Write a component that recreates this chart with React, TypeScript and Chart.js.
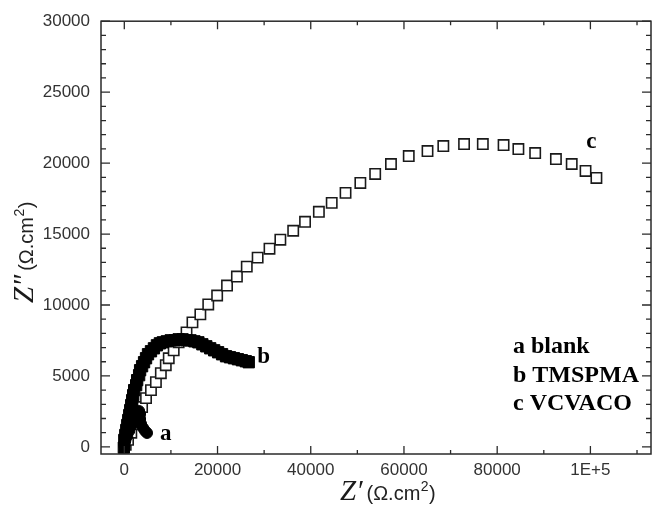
import React, { useEffect, useRef } from "react";
import { Chart, registerables } from "chart.js";

Chart.register(...registerables);

// Series c: VCVACO (open squares)
const cX = [300, 800, 1500, 2200, 3000, 3814, 4662, 5721, 6781, 7840, 8900, 9536, 10595, 11655, 13350, 14621, 16316, 18012, 19919, 22038, 24157, 26276, 28607, 31150, 33480, 36235, 38778, 41744, 44499, 47466, 50644, 53823, 57213, 61027, 65053, 68444, 72894, 76920, 81370, 84548, 88150, 92600, 95990, 98957, 101288];
const cY = [150, 500, 1000, 1600, 2200, 2808, 3440, 4002, 4563, 5195, 5756, 6248, 6809, 7371, 8073, 8775, 9337, 10039, 10670, 11372, 12004, 12706, 13338, 13970, 14602, 15233, 15865, 16567, 17199, 17901, 18603, 19235, 19937, 20498, 20849, 21200, 21341, 21341, 21271, 20990, 20709, 20288, 19937, 19445, 18954];

// Series b: TMSPMA (filled squares)
const bX = [-100, 0, 212, 424, 636, 848, 1060, 1271, 1483, 1695, 1907, 2119, 2543, 2755, 3179, 3390, 3814, 4238, 4662, 5086, 5721, 6357, 6993, 7628, 8264, 9112, 9959, 10807, 11655, 12502, 13350, 14197, 15045, 15893, 16740, 17588, 18435, 19283, 20131, 20978, 21826, 22673, 23521, 24369, 25216, 26064, 26699];
const bY = [-50, 491, 842, 1193, 1544, 1895, 2246, 2597, 2948, 3299, 3650, 4001, 4352, 4703, 5054, 5405, 5686, 5967, 6248, 6529, 6739, 6950, 7160, 7301, 7371, 7441, 7511, 7511, 7582, 7582, 7511, 7511, 7441, 7371, 7231, 7090, 6950, 6809, 6669, 6529, 6388, 6318, 6248, 6178, 6107, 6037, 5967];

// Series a: blank (filled circles)
const aX = [0, 212, 636, 1060, 1483, 1907, 2331, 2755, 3179, 3390, 3390, 3602, 4026, 4450, 4874];
const aY = [70, 421, 772, 1123, 1474, 1825, 2176, 2457, 2527, 2317, 1966, 1615, 1334, 1123, 983];

const xTickValues = [0, 20000, 40000, 60000, 80000, 100000];
const xTickLabels = ["0", "20000", "40000", "60000", "80000", "1E+5"];
const yTickValues = [0, 5000, 10000, 15000, 20000, 25000, 30000];
const yTickLabels = ["0", "5000", "10000", "15000", "20000", "25000", "30000"];

const curveLetters = ["a", "b", "c"];
const curveLetterX = [8900, 29878, 100229];
const curveLetterY = [491, 5897, 21060];

const legendLines = ["a blank", "b TMSPMA", "c VCVACO"];

const X_MIN = -5000;
const X_MAX = 113000;
const Y_MIN = -500;
const Y_MAX = 30000;

const toPts = (xs: number[], ys: number[]) => xs.map((x, i) => ({ x, y: ys[i] }));

const framePlugin = {
  id: "frameTicks",
  afterDraw(chart: any) {
    const { ctx, chartArea: ca, scales } = chart;
    const xs = scales.x;
    const ys = scales.y;
    ctx.save();
    ctx.strokeStyle = "#2a2a2a";
    ctx.lineWidth = 1.5;
    ctx.strokeRect(ca.left, ca.top, ca.right - ca.left, ca.bottom - ca.top);

    ctx.lineWidth = 1.3;
    ctx.beginPath();
    for (let v = 0; v <= X_MAX; v += 10000) {
      const px = xs.getPixelForValue(v);
      const len = v % 20000 === 0 ? 8 : 4;
      ctx.moveTo(px, ca.bottom);
      ctx.lineTo(px, ca.bottom - len);
      ctx.moveTo(px, ca.top);
      ctx.lineTo(px, ca.top + len);
    }
    for (let v = 0; v <= Y_MAX; v += 1000) {
      const py = ys.getPixelForValue(v);
      const len = v % 5000 === 0 ? 9 : 5;
      ctx.moveTo(ca.left, py);
      ctx.lineTo(ca.left + len, py);
      ctx.moveTo(ca.right, py);
      ctx.lineTo(ca.right - len, py);
    }
    ctx.stroke();

    // curve letters
    ctx.fillStyle = "#000";
    ctx.font = "bold 23px 'Liberation Serif', 'Times New Roman', serif";
    ctx.textAlign = "center";
    ctx.textBaseline = "alphabetic";
    curveLetters.forEach((t, i) => {
      ctx.fillText(t, xs.getPixelForValue(curveLetterX[i]), ys.getPixelForValue(curveLetterY[i]));
    });

    // legend text block
    ctx.textAlign = "left";
    ctx.font = "bold 24px 'Liberation Serif', 'Times New Roman', serif";
    legendLines.forEach((t, i) => {
      ctx.fillText(t, ca.left + 412, ca.top + 332 + i * 28.6);
    });

    // axis titles
    const drawTitle = (prime: string) => {
      let x = 0;
      ctx.fillStyle = "#1a1a1a";
      ctx.font = "italic 29px 'Liberation Serif', 'Times New Roman', serif";
      const z = "Z" + prime;
      ctx.fillText(z, x, 0);
      x += ctx.measureText(z).width + 4;
      ctx.fillStyle = "#222";
      ctx.font = "20px 'Liberation Sans', Arial, sans-serif";
      ctx.fillText("(Ω.cm", x, 0);
      x += ctx.measureText("(Ω.cm").width;
      ctx.font = "14px 'Liberation Sans', Arial, sans-serif";
      ctx.fillText("2", x + 0.5, -9);
      x += ctx.measureText("2").width + 1;
      ctx.font = "20px 'Liberation Sans', Arial, sans-serif";
      ctx.fillText(")", x, 0);
    };
    ctx.textAlign = "left";
    ctx.textBaseline = "alphabetic";
    ctx.save();
    ctx.translate(340, 500);
    drawTitle("′");
    ctx.restore();
    ctx.save();
    ctx.translate(33, 303);
    ctx.rotate(-Math.PI / 2);
    drawTitle("″");
    ctx.restore();

    ctx.restore();
  },
};

export default function App() {
  const canvasRef = useRef<HTMLCanvasElement | null>(null);

  useEffect(() => {
    if (!canvasRef.current) return;
    const chart = new Chart(canvasRef.current, {
      type: "scatter",
      data: {
        datasets: [
          {
            label: "a blank",
            data: toPts(aX, aY),
            pointStyle: "circle",
            pointRadius: 5.5,
            backgroundColor: "#000",
            borderColor: "#000",
            pointBorderWidth: 1,
            showLine: false,
            order: 1,
          },
          {
            label: "b TMSPMA",
            data: toPts(bX, bY),
            pointStyle: "rect",
            pointRadius: 8,
            backgroundColor: "#000",
            borderColor: "#000",
            pointBorderWidth: 1,
            showLine: false,
            order: 2,
          },
          {
            label: "c VCVACO",
            data: toPts(cX, cY),
            pointStyle: "rect",
            pointRadius: 7.3,
            backgroundColor: "#fff",
            borderColor: "#1a1a1a",
            pointBorderWidth: 1.6,
            showLine: false,
            order: 3,
          },
        ],
      },
      options: {
        animation: false,
        responsive: true,
        maintainAspectRatio: false,
        layout: { padding: { top: 20, right: 2, left: 0, bottom: 0 } },
        plugins: { legend: { display: false }, tooltip: { enabled: false } },
        scales: {
          x: {
            type: "linear",
            min: X_MIN,
            max: X_MAX,
            grid: { display: false, drawTicks: false },
            border: { display: false },
            afterBuildTicks: (s: any) => {
              s.ticks = xTickValues.map((value) => ({ value }));
            },
            afterFit: (s: any) => {
              s.height = 51;
            },
            ticks: {
              autoSkip: false,
              maxRotation: 0,
              padding: 6,
              color: "#333",
              font: { family: "'Liberation Sans', Arial, sans-serif", size: 17 },
              callback: (v: any) => {
                const i = xTickValues.indexOf(Number(v));
                return i >= 0 ? xTickLabels[i] : "";
              },
            },
          },
          y: {
            type: "linear",
            min: Y_MIN,
            max: Y_MAX,
            grid: { display: false, drawTicks: false },
            border: { display: false },
            afterBuildTicks: (s: any) => {
              s.ticks = yTickValues.map((value) => ({ value }));
            },
            afterFit: (s: any) => {
              s.width = 101;
            },
            ticks: {
              autoSkip: false,
              padding: 11,
              color: "#333",
              font: { family: "'Liberation Sans', Arial, sans-serif", size: 17 },
              callback: (v: any) => {
                const i = yTickValues.indexOf(Number(v));
                return i >= 0 ? yTickLabels[i] : "";
              },
            },
          },
        },
      },
      plugins: [framePlugin],
    });
    return () => chart.destroy();
  }, []);

  return (
    <div style={{ position: "fixed", left: 0, top: 0, width: 660, height: 505, background: "#fff" }}>
      <canvas ref={canvasRef} />
    </div>
  );
}
